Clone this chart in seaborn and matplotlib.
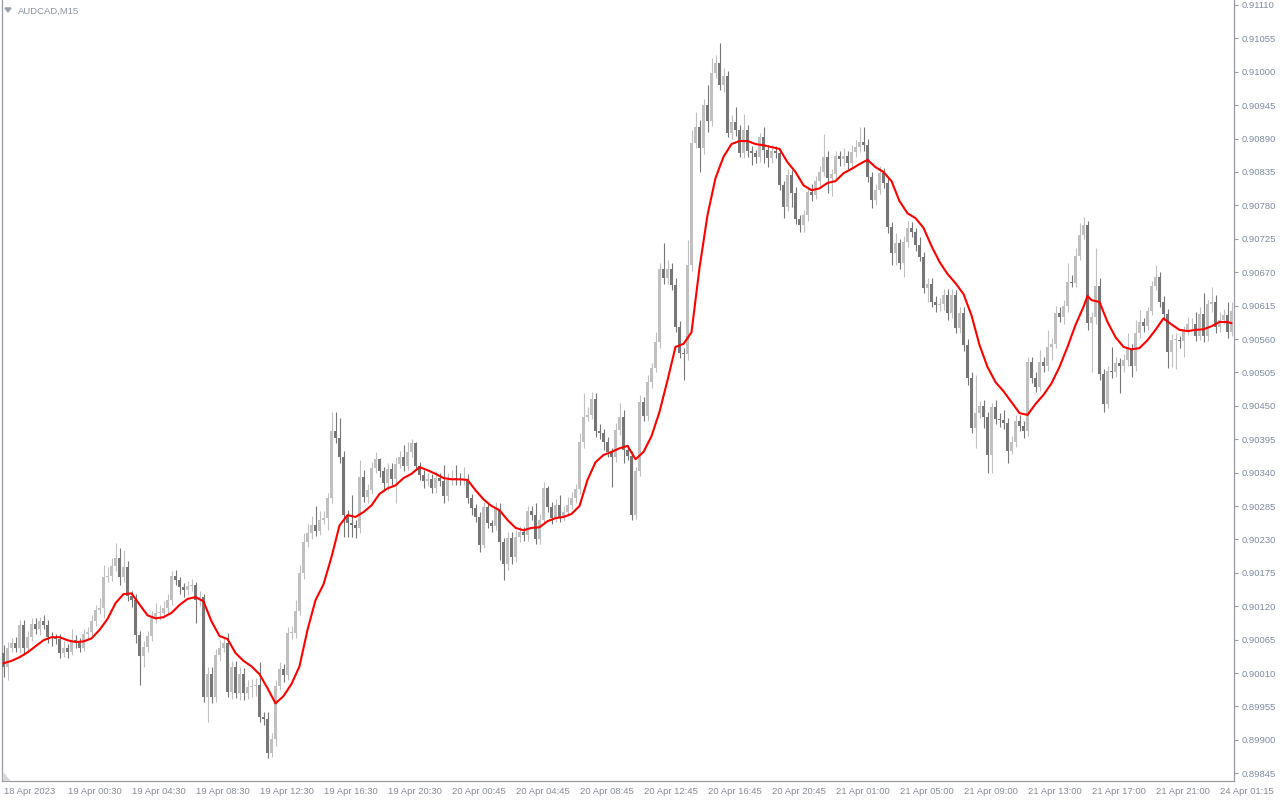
import numpy as np
import pandas as pd
import matplotlib
matplotlib.use("Agg")
import matplotlib.pyplot as plt
from matplotlib.patches import Polygon
import seaborn as sns

# AUDCAD M15 bars, prices in 1e-5 units
symbol_label = "AUDCAD,M15"
first_open = 90043
closes = [
    90020, 90051, 90059, 90051, 90089, 90051, 90069, 90090, 90082, 90095,
    90089, 90069, 90067, 90066, 90043, 90051, 90044, 90064, 90062, 90051,
    90074, 90077, 90095, 90114, 90117, 90168, 90170, 90186, 90199, 90168,
    90184, 90137, 90130, 90072, 90038, 90053, 90071, 90100, 90109, 90109,
    90117, 90130, 90170, 90163, 90151, 90146, 90153, 90155, 90130, 90135,
    89970, 90008, 89970, 90039, 90051, 90059, 89979, 90020, 89977, 90008,
    89977, 89987, 89989, 89990, 89937, 89934, 89878, 89901, 89989, 90016,
    90006, 90076, 90076, 90112, 90174, 90225, 90240, 90253, 90244, 90262,
    90265, 90298, 90408, 90397, 90365, 90270, 90257, 90253, 90249, 90333,
    90300, 90311, 90347, 90362, 90342, 90323, 90346, 90329, 90354, 90365,
    90351, 90374, 90388, 90351, 90336, 90326, 90329, 90314, 90331, 90326,
    90301, 90328, 90331, 90329, 90328, 90329, 90298, 90281, 90267, 90220,
    90283, 90257, 90252, 90280, 90225, 90189, 90232, 90201, 90234, 90242,
    90237, 90276, 90270, 90230, 90262, 90314, 90283, 90265, 90286, 90267,
    90275, 90286, 90298, 90313, 90390, 90431, 90435, 90461, 90408, 90405,
    90390, 90374, 90365, 90410, 90431, 90377, 90367, 90270, 90342, 90456,
    90433, 90489, 90512, 90555, 90675, 90660, 90675, 90649, 90580, 90537,
    90535, 90682, 90883, 90909, 90874, 90945, 90919, 90998, 91014, 90978,
    90993, 90899, 90917, 90904, 90866, 90904, 90869, 90866, 90860, 90892,
    90871, 90858, 90869, 90866, 90813, 90777, 90830, 90800, 90757, 90747,
    90764, 90802, 90797, 90820, 90835, 90860, 90825, 90831, 90861, 90856,
    90861, 90850, 90868, 90876, 90884, 90879, 90827, 90789, 90805, 90833,
    90817, 90744, 90701, 90718, 90685, 90720, 90743, 90736, 90715, 90695,
    90644, 90650, 90621, 90616, 90617, 90632, 90603, 90632, 90578, 90603,
    90550, 90496, 90413, 90438, 90449, 90431, 90369, 90448, 90428, 90426,
    90421, 90375, 90390, 90425, 90417, 90408, 90522, 90496, 90481, 90522,
    90515, 90547, 90552, 90603, 90596, 90614, 90654, 90652, 90696, 90731,
    90747, 90586, 90596, 90647, 90502, 90453, 90507, 90505, 90520, 90515,
    90525, 90543, 90515, 90570, 90588, 90581, 90606, 90647, 90662, 90621,
    90601, 90538, 90558, 90558, 90556, 90573, 90584, 90584, 90565, 90601,
    90565, 90617, 90621, 90580, 90591, 90599, 90571, 90606,
]
highs = [
    90056, 90061, 90067, 90070, 90097, 90098, 90080, 90100, 90100, 90103,
    90106, 90098, 90078, 90075, 90074, 90062, 90058, 90082, 90073, 90068,
    90083, 90086, 90105, 90122, 90133, 90188, 90185, 90200, 90224, 90216,
    90212, 90195, 90145, 90140, 90080, 90062, 90080, 90112, 90125, 90122,
    90128, 90140, 90178, 90180, 90168, 90158, 90162, 90165, 90160, 90145,
    90140, 90020, 90020, 90050, 90064, 90070, 90076, 90030, 90030, 90020,
    90018, 89998, 90000, 90002, 90028, 89945, 89945, 89912, 89998, 90028,
    90025, 90086, 90088, 90130, 90188, 90240, 90255, 90268, 90285, 90276,
    90276, 90306, 90440, 90440, 90430, 90375, 90278, 90303, 90262, 90361,
    90344, 90322, 90358, 90374, 90364, 90350, 90356, 90355, 90365, 90375,
    90385, 90390, 90395, 90390, 90358, 90344, 90340, 90338, 90342, 90340,
    90352, 90339, 90345, 90352, 90340, 90349, 90338, 90305, 90288, 90275,
    90291, 90292, 90262, 90292, 90290, 90232, 90242, 90242, 90245, 90252,
    90250, 90285, 90285, 90290, 90272, 90325, 90318, 90292, 90296, 90303,
    90285, 90300, 90308, 90322, 90405, 90471, 90448, 90473, 90471, 90420,
    90412, 90398, 90380, 90421, 90454, 90443, 90385, 90375, 90350, 90468,
    90465, 90500, 90520, 90571, 90685, 90718, 90690, 90685, 90660, 90590,
    90545, 90723, 90904, 90934, 90920, 90955, 90978, 91023, 91027, 91047,
    91006, 91002, 90929, 90942, 90912, 90930, 90912, 90878, 90872, 90900,
    90909, 90880, 90880, 90878, 90875, 90820, 90840, 90838, 90810, 90765,
    90772, 90812, 90815, 90828, 90845, 90897, 90870, 90840, 90870, 90870,
    90875, 90870, 90880, 90888, 90909, 90909, 90890, 90835, 90815, 90845,
    90842, 90825, 90752, 90734, 90725, 90730, 90755, 90752, 90742, 90728,
    90703, 90660, 90660, 90630, 90628, 90642, 90642, 90642, 90640, 90612,
    90613, 90560, 90505, 90500, 90458, 90459, 90440, 90455, 90460, 90438,
    90443, 90430, 90400, 90435, 90435, 90425, 90530, 90530, 90505, 90542,
    90530, 90575, 90562, 90615, 90612, 90625, 90685, 90665, 90710, 90751,
    90761, 90755, 90605, 90710, 90660, 90510, 90515, 90547, 90530, 90528,
    90535, 90570, 90552, 90591, 90607, 90595, 90612, 90656, 90682, 90670,
    90630, 90610, 90568, 90570, 90565, 90582, 90596, 90595, 90604, 90612,
    90636, 90625, 90645, 90632, 90605, 90610, 90621, 90621,
]
lows = [
    90003, 89998, 90045, 90044, 90043, 90040, 90045, 90062, 90074, 90072,
    90082, 90060, 90055, 90058, 90035, 90036, 90035, 90040, 90052, 90045,
    90046, 90066, 90070, 90088, 90107, 90100, 90160, 90162, 90178, 90155,
    90160, 90128, 90118, 90060, 89990, 90020, 90044, 90062, 90092, 90098,
    90100, 90108, 90122, 90155, 90140, 90135, 90138, 90145, 90092, 90120,
    89962, 89929, 89960, 89962, 90030, 90044, 89970, 89968, 89969, 89965,
    89965, 89968, 89970, 89972, 89930, 89925, 89870, 89871, 89890, 89982,
    89995, 89998, 90066, 90068, 90105, 90165, 90218, 90230, 90235, 90238,
    90255, 90245, 90290, 90388, 90355, 90234, 90234, 90234, 90232, 90240,
    90292, 90290, 90305, 90340, 90333, 90310, 90311, 90320, 90290, 90348,
    90342, 90345, 90366, 90344, 90328, 90314, 90318, 90306, 90306, 90318,
    90290, 90294, 90320, 90320, 90320, 90320, 90290, 90270, 90258, 90210,
    90216, 90248, 90242, 90245, 90196, 90163, 90180, 90190, 90192, 90225,
    90228, 90228, 90262, 90222, 90222, 90255, 90275, 90255, 90258, 90258,
    90260, 90268, 90280, 90290, 90305, 90380, 90425, 90428, 90398, 90395,
    90378, 90365, 90316, 90358, 90402, 90356, 90360, 90262, 90264, 90335,
    90425, 90425, 90480, 90505, 90545, 90650, 90650, 90640, 90572, 90528,
    90492, 90525, 90672, 90875, 90835, 90865, 90901, 90910, 90990, 90970,
    90967, 90892, 90890, 90895, 90860, 90858, 90860, 90846, 90850, 90852,
    90850, 90843, 90850, 90858, 90805, 90759, 90770, 90777, 90750, 90736,
    90736, 90755, 90788, 90790, 90812, 90828, 90800, 90795, 90822, 90845,
    90845, 90840, 90842, 90860, 90868, 90870, 90818, 90775, 90780, 90798,
    90808, 90735, 90682, 90682, 90675, 90662, 90712, 90728, 90705, 90688,
    90636, 90621, 90612, 90605, 90606, 90608, 90591, 90595, 90570, 90570,
    90540, 90485, 90405, 90380, 90430, 90413, 90339, 90339, 90420, 90415,
    90412, 90356, 90370, 90382, 90408, 90397, 90400, 90488, 90472, 90475,
    90505, 90508, 90525, 90545, 90588, 90585, 90605, 90645, 90645, 90690,
    90725, 90575, 90505, 90585, 90492, 90440, 90446, 90495, 90498, 90471,
    90506, 90516, 90497, 90508, 90562, 90572, 90575, 90600, 90640, 90612,
    90592, 90512, 90514, 90510, 90545, 90530, 90566, 90575, 90556, 90558,
    90555, 90556, 90605, 90570, 90572, 90585, 90562, 90565,
]

# red moving-average line (bar index -> value)
ma_bars = list(range(0, 271, 2)) + [271] + list(range(272, 307, 2)) + [307]
ma_values = [
    90026, 90030, 90036, 90044, 90054, 90064, 90069, 90069, 90064, 90061,
    90062, 90067, 90081, 90099, 90125, 90140, 90141, 90123, 90105, 90100,
    90102, 90109, 90122, 90132, 90135, 90128, 90095, 90071, 90066, 90043,
    90030, 90021, 90008, 89985, 89960, 89972, 89992, 90021, 90081, 90130,
    90156, 90201, 90253, 90270, 90267, 90275, 90286, 90305, 90314, 90319,
    90331, 90338, 90349, 90344, 90338, 90331, 90329, 90329, 90328, 90311,
    90296, 90285, 90278, 90262, 90249, 90245, 90249, 90250, 90260, 90265,
    90267, 90272, 90285, 90328, 90357, 90369, 90374, 90380, 90384, 90362,
    90374, 90400, 90440, 90492, 90547, 90552, 90571, 90677, 90764, 90825,
    90860, 90881, 90886, 90886, 90881, 90879, 90876, 90873, 90851, 90835,
    90813, 90805, 90808, 90817, 90820, 90833, 90840, 90848, 90855, 90843,
    90835, 90820, 90787, 90767, 90759, 90743, 90713, 90687, 90667, 90652,
    90634, 90599, 90550, 90514, 90489, 90474, 90456, 90438, 90435, 90453,
    90468, 90487, 90514, 90547, 90583, 90613, 90631, 90624, 90621, 90588,
    90563, 90547, 90543, 90545, 90558, 90575, 90594, 90584, 90575, 90573,
    90575, 90576, 90581, 90588, 90588, 90586,
]

time_labels = [
    "18 Apr 2023", "19 Apr 00:30", "19 Apr 04:30", "19 Apr 08:30", "19 Apr 12:30",
    "19 Apr 16:30", "19 Apr 20:30", "20 Apr 00:45", "20 Apr 04:45", "20 Apr 08:45",
    "20 Apr 12:45", "20 Apr 16:45", "20 Apr 20:45", "21 Apr 01:00", "21 Apr 05:00",
    "21 Apr 09:00", "21 Apr 13:00", "21 Apr 17:00", "21 Apr 21:00", "24 Apr 01:15",
]
label_step = 16

sns.set_style("white")
plt.rcParams['font.family'] = ['Liberation Sans', 'DejaVu Sans']

df = pd.DataFrame({
    'close': np.array(closes) / 1e5,
    'high': np.array(highs) / 1e5,
    'low': np.array(lows) / 1e5,
})
df['open'] = [first_open / 1e5] + list(df['close'].iloc[:-1])
df['bar'] = np.arange(len(df))
ma_df = pd.DataFrame({'bar': ma_bars, 'ma': np.array(ma_values) / 1e5})

W, H = 1280, 800
fig = plt.figure(figsize=(W / 100, H / 100), dpi=100)
ax = fig.add_axes([2 / W, 19 / H, 1232 / W, 781 / H])

axis_grey = '#9a9aa4'
text_grey = '#7f8ca0'
up = (df['close'] >= df['open']).values
colors = np.where(up, '#c0c0c0', '#777777')

# wicks then bodies
ax.vlines(df['bar'], df['low'], df['high'], colors=colors, linewidth=0.8, zorder=2)
body = (df['close'] - df['open']).abs().clip(lower=1.2e-5)
ax.bar(df['bar'], body, bottom=np.minimum(df['open'], df['close']),
       width=0.7, color=colors, linewidth=0, zorder=3)

sns.lineplot(data=ma_df, x='bar', y='ma', color='#ff0000', linewidth=1.5, ax=ax, zorder=4)

ax.set_xlim(-0.375, len(df) - 0.375)
ax.set_ylim(0.898322, 0.911182)
ax.set_xlabel('')
ax.set_ylabel('')

# price scale on the right
price_ticks = [0.89845 + 0.00055 * k for k in range(24)]
ax.yaxis.tick_right()
ax.set_yticks(price_ticks)
ax.set_yticklabels([f"{p:.5f}" for p in price_ticks])
ax.tick_params(axis='y', direction='out', length=3, width=0.8, color=axis_grey,
               labelcolor=text_grey, labelsize=6.8, pad=2.5)

# time scale
ax.set_xticks(list(range(0, len(df), label_step))[:len(time_labels)])
ax.set_xticklabels(time_labels, ha='left')
ax.tick_params(axis='x', direction='out', length=3, width=0.8, color=axis_grey,
               labelcolor='#868c96', labelsize=6.8, pad=1)

for side in ['left', 'bottom', 'right']:
    ax.spines[side].set_color(axis_grey)
    ax.spines[side].set_linewidth(0.9)
ax.spines['top'].set_visible(False)

# symbol caption with the little menu triangle
fig.text(18 / W, 1 - 11 / H, symbol_label, fontsize=6.8, color='#8a93a0',
         ha='left', va='center')
fig.patches.append(Polygon([(5 / W, 1 - 8 / H), (11 / W, 1 - 8 / H), (8 / W, 1 - 12 / H)],
                           closed=True, transform=fig.transFigure, color='#9aa0a8'))
fig.patches.append(Polygon([(3 / W, 1 - 773 / H), (3 / W, 1 - 780 / H), (9 / W, 1 - 780 / H)],
                           closed=True, transform=fig.transFigure, color='#d8d8d8'))

fig.savefig('out.png', dpi=100)
